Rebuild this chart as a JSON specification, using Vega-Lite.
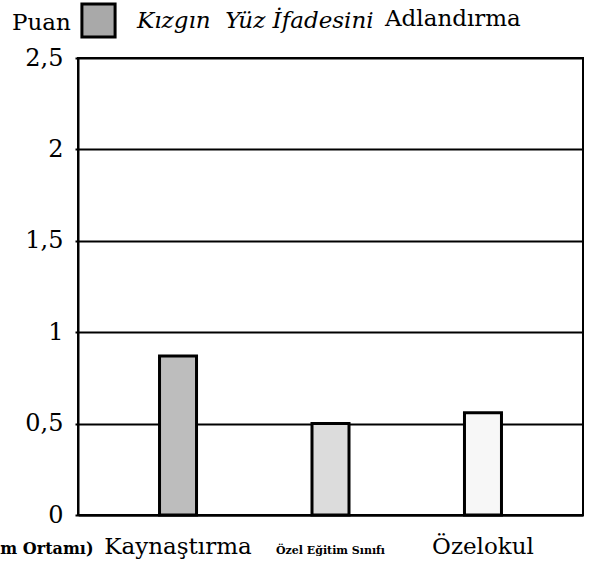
{
  "$schema": "https://vega.github.io/schema/vega-lite/v6.json",
  "width": 505,
  "height": 457,
  "autosize": {"type": "none"},
  "padding": {"left": 78, "top": 58, "right": 9, "bottom": 49},
  "background": "white",
  "title": {
    "text": "Adlandırma",
    "anchor": "start",
    "frame": "group",
    "dx": 307,
    "dy": 45,
    "offset": 16,
    "font": "DejaVu Serif",
    "fontSize": 23,
    "fontStyle": "normal",
    "fontWeight": "normal",
    "color": "black"
  },
  "config": {
    "view": {"stroke": "black", "strokeWidth": 2},
    "axis": {"labelFont": "DejaVu Serif", "titleFont": "DejaVu Serif", "labelColor": "black", "titleColor": "black"}
  },
  "data": {
    "values": [
      {"ortam": "Kaynaştırma", "puan": 0.87, "seri": "Kızgın Yüz İfadesini Adlandırma"},
      {"ortam": "Özel Eğitim Sınıfı", "puan": 0.5, "seri": "Kızgın Yüz İfadesini Adlandırma"},
      {"ortam": "Özelokul", "puan": 0.56, "seri": "Kızgın Yüz İfadesini Adlandırma"}
    ]
  },
  "mark": {"type": "bar", "width": 37, "strokeWidth": 3},
  "encoding": {
    "x": {
      "field": "ortam",
      "type": "nominal",
      "sort": null,
      "scale": {"paddingInner": 0, "paddingOuter": 0.156},
      "axis": {
        "title": "(Eğitim Ortamı)",
        "titleFontSize": 16,
        "titleFontWeight": "bold",
        "titleAlign": "right",
        "titleBaseline": "alphabetic",
        "titleAngle": 0,
        "titleX": 15,
        "titleY": 38,
        "labelAngle": 0,
        "labelBaseline": "alphabetic",
        "labelPadding": 38,
        "labelFontSize": {"condition": {"test": "datum.value == 'Özel Eğitim Sınıfı'", "value": 11}, "value": 23},
        "labelFontWeight": {"condition": {"test": "datum.value == 'Özel Eğitim Sınıfı'", "value": "bold"}, "value": "normal"},
        "encode": {
          "labels": {
            "update": {
              "dx": {"signal": "datum.value == 'Kaynaştırma' ? 3 : datum.value == 'Özelokul' ? -21 : -6"}
            }
          }
        },
        "ticks": false,
        "domain": true,
        "domainColor": "black",
        "domainWidth": 2
      }
    },
    "y": {
      "field": "puan",
      "type": "quantitative",
      "scale": {"domain": [0, 2.5]},
      "axis": {
        "title": null,
        "values": [0, 0.5, 1, 1.5, 2, 2.5],
        "labelExpr": "replace(format(datum.value, '~g'), '.', ',')",
        "labelFontSize": 24,
        "labelPadding": 12,
        "tickSize": 3,
        "tickColor": "black",
        "tickWidth": 2,
        "grid": true,
        "gridColor": "black",
        "gridWidth": 2,
        "gridOpacity": 1,
        "domainColor": "black",
        "domainWidth": 2
      }
    },
    "fill": {
      "field": "ortam",
      "type": "nominal",
      "sort": null,
      "scale": {"range": ["#bdbdbd", "#dcdcdc", "#f7f7f7"]},
      "legend": null
    },
    "stroke": {
      "field": "seri",
      "type": "nominal",
      "scale": {"range": ["black"]},
      "legend": {
        "orient": "none",
        "legendX": -66,
        "legendY": -56,
        "padding": 0,
        "title": "Puan",
        "titleOrient": "left",
        "titleFont": "DejaVu Serif",
        "titleFontSize": 23,
        "titleFontWeight": "normal",
        "titleColor": "black",
        "titleBaseline": "middle",
        "titlePadding": 9,
        "symbolType": "square",
        "symbolSize": 1100,
        "symbolStrokeWidth": 3,
        "symbolFillColor": "#a9a9a9",
        "symbolOpacity": 1,
        "labelFont": "DejaVu Serif",
        "labelFontSize": 23,
        "labelFontStyle": "italic",
        "labelColor": "black",
        "labelOffset": 20,
        "labelLimit": 0,
        "labelExpr": "replace(replace(datum.label, ' Adlandırma', ''), 'Kızgın ', 'Kızgın\u00a0 ')"
      }
    }
  }
}
